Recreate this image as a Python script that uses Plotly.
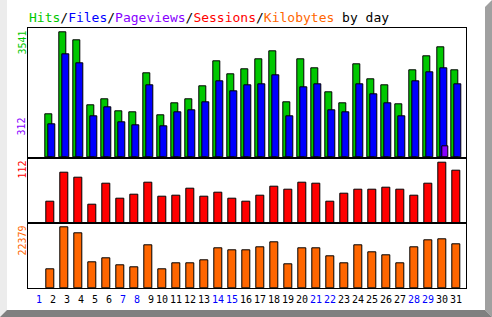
import plotly.graph_objects as go

W, H = 492, 317

days = list(range(1, 32))
weekend_days = [1, 7, 8, 14, 15, 21, 22, 28, 29]
hits = [0, 1231, 3541, 3316, 1485, 1654, 1324, 1287, 2386, 1203, 1541, 1654, 2020, 2724, 2358, 2499,
        2780, 3006, 1569, 2780, 2527, 1851, 1541, 2640, 2217, 2048, 1513, 2471, 2865, 3118, 2471]
files = [0, 949, 2930, 2676, 1175, 1428, 1006, 921, 2048, 893, 1287, 1344, 1569, 2161, 1879, 2048,
         2085, 2330, 1175, 1992, 2076, 1344, 1287, 2076, 1794, 1541, 1175, 2161, 2414, 2527, 2076]
pageviews = [0, 0, 0, 0, 0, 0, 0, 0, 0, 0, 0, 0, 0, 0, 0, 0,
             0, 0, 0, 0, 0, 0, 0, 0, 0, 0, 0, 0, 0, 312, 0]
sessions = [0, 39, 92, 83, 35, 72, 46, 53, 75, 48, 51, 64, 48, 57, 46, 40,
            50, 68, 61, 75, 73, 39, 55, 61, 61, 66, 61, 50, 72, 112, 97]
kbytes = [0, 7005, 22379, 20168, 9476, 10950, 8370, 7632, 15744, 6895, 9107, 9107, 10213, 14637, 13900, 13900,
          15006, 16850, 8738, 14637, 14637, 11688, 9107, 15744, 13163, 12057, 9107, 15006, 17587, 17956, 16112]

C_HITS = "#00c800"
C_FILES = "#0000ff"
C_PAGES = "#8800ff"
C_SESS = "#ff0000"
C_KB = "#ff6600"
C_WEEKEND = "#0000ff"

FONT = "DejaVu Sans Mono"

def px(x):
    return x / W

def py(y):
    return 1 - y / H

# plot box pixel geometry
XL, XR = 28.3, 465.7
Y0, Y1, Y2, Y3 = 28.3, 157.7, 223.3, 288.0
PX_PER_DAY = 14.0
BAR_C0 = 22.0  # pixel centre of day d = BAR_C0 + 14*d
xr = [(XL - BAR_C0) / PX_PER_DAY, (XR - BAR_C0) / PX_PER_DAY]

def outline(vals):
    return dict(color="black", width=[0 if v == 0 else 1 for v in vals])

fig = go.Figure()
fig.add_bar(x=days, y=hits, xaxis="x", yaxis="y", marker=dict(color=C_HITS, line=outline(hits)),
            width=7 / 14, offset=-5 / 14, name="Hits")
fig.add_bar(x=days, y=files, xaxis="x", yaxis="y", marker=dict(color=C_FILES, line=outline(files)),
            width=7 / 14, offset=-2 / 14, name="Files")
fig.add_bar(x=days, y=pageviews, xaxis="x", yaxis="y", marker=dict(color=C_PAGES, line=outline(pageviews)),
            width=6.5 / 14, offset=0 / 14, name="Pageviews")
fig.add_bar(x=days, y=sessions, xaxis="x2", yaxis="y2", marker=dict(color=C_SESS, line=outline(sessions)),
            width=8 / 14, offset=-4 / 14, name="Sessions")
fig.add_bar(x=days, y=kbytes, xaxis="x3", yaxis="y3", marker=dict(color=C_KB, line=outline(kbytes)),
            width=8 / 14, offset=-4 / 14, name="Kilobytes")

ticktext = []
for d in days:
    t = str(d) if d >= 10 else "\u00a0" + str(d)
    if d in weekend_days:
        t = f"<span style='color:{C_WEEKEND}'>{t}</span>"
    ticktext.append(t)

common_x = dict(range=xr, domain=[px(XL), px(XR)], showline=True, mirror=True, linecolor="black",
                linewidth=1, showgrid=False, zeroline=False, fixedrange=True)
common_y = dict(showline=True, mirror=True, linecolor="black", linewidth=1, showgrid=False,
                zeroline=False, showticklabels=False, ticks="")

fig.update_layout(
    width=W, height=H, margin=dict(l=0, r=0, t=0, b=0),
    paper_bgcolor="white", plot_bgcolor="white",
    barmode="overlay", showlegend=False, bargap=0,
    xaxis=dict(anchor="y", showticklabels=False, ticks="", **common_x),
    xaxis2=dict(anchor="y2", showticklabels=False, ticks="", **common_x),
    xaxis3=dict(anchor="y3", tickmode="array", tickvals=days, ticktext=ticktext, ticks="",
                tickangle=0, ticklabelstandoff=2,
                tickfont=dict(family=FONT, size=10, color="black"), **common_x),
    yaxis=dict(anchor="x", domain=[py(Y1), py(Y0)], range=[0, max(hits) * 129.4 / 125.4], **common_y),
    yaxis2=dict(anchor="x2", domain=[py(Y2), py(Y1)], range=[0, max(sessions) * 65.6 / 61.0], **common_y),
    yaxis3=dict(anchor="x3", domain=[py(Y3), py(Y2)], range=[0, max(kbytes) * 64.7 / 60.7], **common_y),
)

title = (f"<span style='color:{C_HITS}'>Hits</span>/"
         f"<span style='color:{C_FILES}'>Files</span>/"
         f"<span style='color:{C_PAGES}'>Pageviews</span>/"
         f"<span style='color:{C_SESS}'>Sessions</span>/"
         f"<span style='color:{C_KB}'>Kilobytes</span> by day")
fig.add_annotation(text=title, xref="paper", yref="paper", x=px(27), y=py(17), xanchor="left",
                   yanchor="middle", showarrow=False, font=dict(family=FONT, size=13, color="black"))

def side_label(text, color, ytop):
    fig.add_annotation(text=text, xref="paper", yref="paper", x=px(21.5), y=py(ytop), xanchor="center",
                       yanchor="top", textangle=-90, showarrow=False,
                       font=dict(family=FONT, size=10, color=color))

side_label(str(max(hits)), C_HITS, 29)
side_label(str(max(pageviews)), C_PAGES, 116)
side_label(str(max(sessions)), C_SESS, 159)
side_label(str(max(kbytes)), C_KB, 224)

# bevelled frame
def poly(points, color):
    d = "M " + " L ".join(f"{px(x)},{py(y)}" for x, y in points) + " Z"
    fig.add_shape(type="path", path=d, xref="paper", yref="paper", fillcolor=color,
                  line=dict(width=0), layer="above")

poly([(0, 0), (7, 0), (7, 310), (0, 317)], "#ececec")
poly([(485, 7), (492, 0), (492, 317), (485, 310)], "#a0a0a0")
poly([(0, 317), (7, 310), (485, 310), (492, 317)], "#808080")

fig.write_html("out.html")
